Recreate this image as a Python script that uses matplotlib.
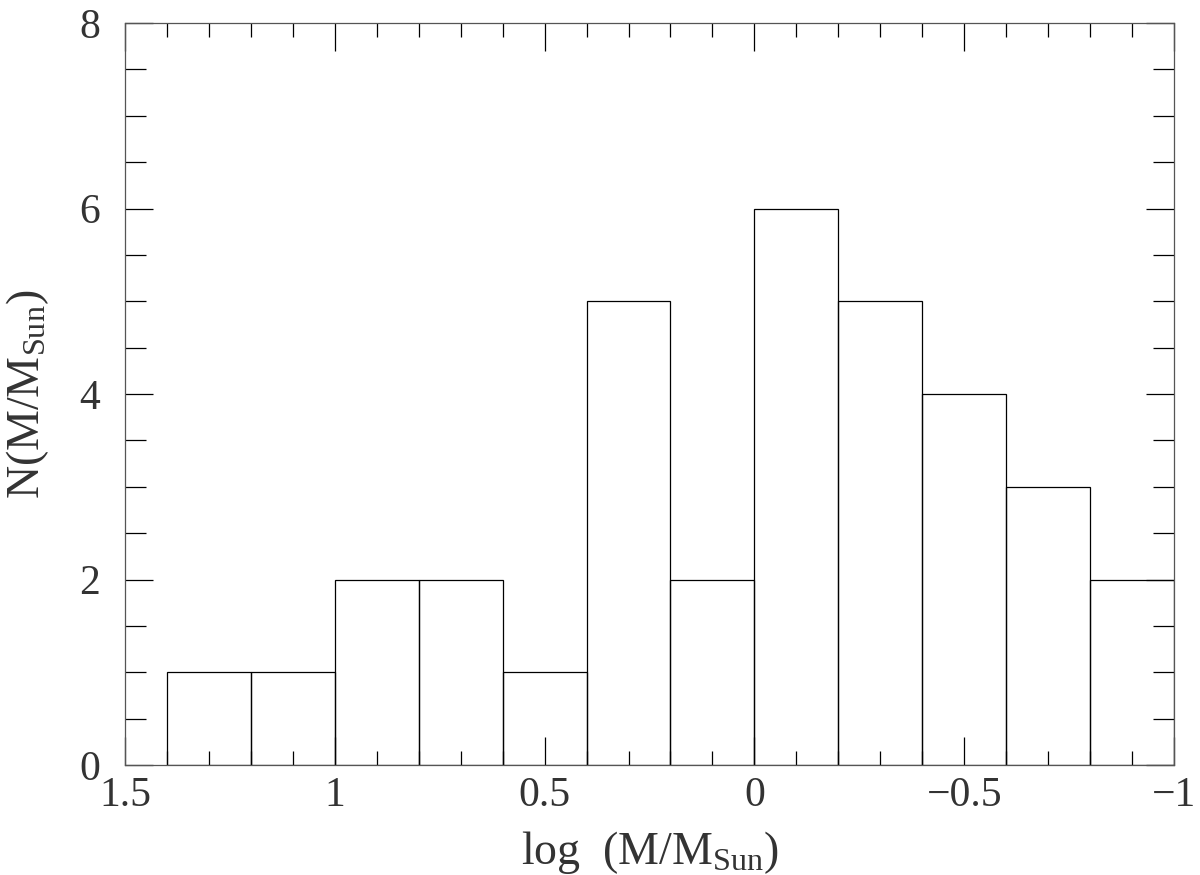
import numpy as np
import matplotlib
matplotlib.use("Agg")
from matplotlib import pyplot as plt
from matplotlib.ticker import MultipleLocator

# histogram of log masses (bin edges, counts per bin)
bin_edges = [1.4, 1.2, 1.0, 0.8, 0.6, 0.4, 0.2, 0.0, -0.2, -0.4, -0.6, -0.8, -1.0]
counts = [1, 1, 2, 2, 1, 5, 2, 6, 5, 4, 3, 2]

plt.rcParams['font.family'] = ['Liberation Serif', 'DejaVu Serif']
plt.rcParams['mathtext.fontset'] = 'custom'
plt.rcParams['mathtext.rm'] = 'Liberation Serif'
plt.rcParams['mathtext.it'] = 'Liberation Serif'

fig = plt.figure(figsize=(12, 8.75), dpi=100)
ax = fig.add_axes([125/1200, 1 - 765/875, 1049/1200, 742/875])

left = np.array(bin_edges[:-1])
right = np.array(bin_edges[1:])
ax.bar(right, counts, width=left - right, align='edge',
       facecolor='none', edgecolor='black', linewidth=0.9)

ax.set_xlim(1.5, -1)
ax.set_ylim(0, 8)

ax.xaxis.set_major_locator(MultipleLocator(0.5))
ax.xaxis.set_minor_locator(MultipleLocator(0.1))
ax.yaxis.set_major_locator(MultipleLocator(2))
ax.yaxis.set_minor_locator(MultipleLocator(0.5))
ax.xaxis.set_major_formatter(plt.FuncFormatter(
    lambda v, p: ('\u2212' if v < 0 else '') + ('%g' % abs(v))))

ax.tick_params(which='both', direction='in', top=True, right=True,
               color='black', width=0.9, labelsize=30, colors='#333333')
ax.tick_params(which='major', length=20, pad=8)
ax.tick_params(axis='y', which='major', pad=18)
ax.tick_params(axis='y', which='minor', length=15)
ax.tick_params(axis='x', which='minor', length=10)
for s in ax.spines.values():
    s.set_linewidth(0.9)
    s.set_color('#555555')

ax.set_xlabel(r'log  (M/M$_{\rm Sun}$)', fontsize=33, labelpad=10, color='#333333')
ax.set_ylabel(r'N(M/M$_{\rm Sun}$)', fontsize=33, labelpad=20, color='#333333')

fig.savefig('out.png', dpi=100)
